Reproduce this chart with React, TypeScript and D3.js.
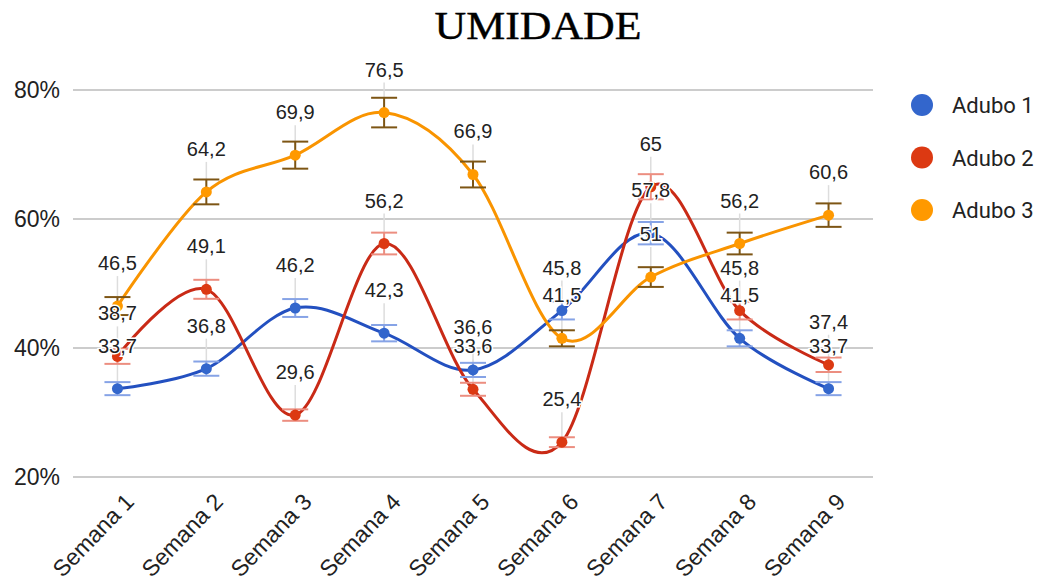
import { useEffect, useRef } from "react";
import * as d3 from "d3";

const categories = [
  "Semana 1",
  "Semana 2",
  "Semana 3",
  "Semana 4",
  "Semana 5",
  "Semana 6",
  "Semana 7",
  "Semana 8",
  "Semana 9",
];

const adubo1 = [33.7, 36.8, 46.2, 42.3, 36.6, 45.8, 57.8, 41.5, 33.7];
const adubo2 = [38.7, 49.1, 29.6, 56.2, 33.6, 25.4, 65, 45.8, 37.4];
const adubo3 = [46.5, 64.2, 69.9, 76.5, 66.9, 41.5, 51, 56.2, 60.6];

const seriesNames = ["Adubo 1", "Adubo 2", "Adubo 3"];
const yTicks = [20, 40, 60, 80];
// error bars are a percentage of each value
const errorPercent = 3;

const colors = ["#3366cc", "#dc3912", "#ff9900"];
const lineColors = ["#2350c0", "#c92a16", "#f99400"];
const barColors = ["#86a3e6", "#ec8e80", "#7d5514"];

const Chart = () => {
  const svgRef = useRef<SVGSVGElement | null>(null);

  const width = 1055;
  const height = 585;

  useEffect(() => {
    if (!svgRef.current) return;
    const svg = d3.select(svgRef.current);
    svg.selectAll("*").remove();

    const left = 73;
    const right = 873;
    const top = 90;
    const bottom = 477;

    const x = d3
      .scalePoint<string>()
      .domain(categories)
      .range([left, right])
      .padding(0.5);
    const y = d3.scaleLinear().domain([20, 80]).range([bottom, top]);

    const allSeries = [adubo1, adubo2, adubo3];

    // title
    svg
      .append("text")
      .attr("x", 538)
      .attr("y", 39)
      .attr("text-anchor", "middle")
      .attr("font-family", "Liberation Serif, serif")
      .attr("font-size", 39)
      .attr("textLength", 207)
      .attr("lengthAdjust", "spacingAndGlyphs")
      .attr("fill", "#000")
      .attr("stroke", "#000")
      .attr("stroke-width", 0.4)
      .text("UMIDADE");

    // grid
    const grid = svg.append("g");
    grid
      .selectAll("line")
      .data(yTicks)
      .join("line")
      .attr("x1", left)
      .attr("x2", right)
      .attr("y1", (d) => y(d))
      .attr("y2", (d) => y(d))
      .attr("stroke", "#cccccc")
      .attr("stroke-width", 2);

    grid
      .selectAll("text")
      .data(yTicks)
      .join("text")
      .attr("x", 60)
      .attr("y", (d) => y(d) + 8)
      .attr("text-anchor", "end")
      .attr("font-family", "Liberation Sans, Arial, sans-serif")
      .attr("font-size", 23)
      .attr("fill", "#222")
      .text((d) => `${d}%`);

    // x labels
    svg
      .append("g")
      .selectAll("text")
      .data(categories)
      .join("text")
      .attr(
        "transform",
        (d) => `translate(${(x(d) ?? 0) + 18},${503}) rotate(-46)`
      )
      .attr("text-anchor", "end")
      .attr("font-family", "Liberation Sans, Arial, sans-serif")
      .attr("font-size", 23)
      .attr("fill", "#222")
      .text((d) => d);

    // annotation stems
    const stems = svg.append("g");
    allSeries.forEach((vals) => {
      stems
        .append("g")
        .selectAll("line")
        .data(vals)
        .join("line")
        .attr("x1", (_, i) => x(categories[i]) ?? 0)
        .attr("x2", (_, i) => x(categories[i]) ?? 0)
        .attr("y1", (d) => y(d) - 30)
        .attr("y2", (d) => y(d))
        .attr("stroke", "#dddddd")
        .attr("stroke-width", 1.5);
    });

    // lines
    const line = d3
      .line<number>()
      .x((_, i) => x(categories[i]) ?? 0)
      .y((d) => y(d))
      .curve(d3.curveCardinal.tension(0));

    const lines = svg.append("g");
    allSeries.forEach((vals, s) => {
      lines
        .append("path")
        .datum(vals)
        .attr("fill", "none")
        .attr("stroke", lineColors[s])
        .attr("stroke-width", 3)
        .attr("d", line);
    });

    // error bars
    const bars = svg.append("g");
    allSeries.forEach((vals, s) => {
      const g = bars.append("g").attr("stroke", barColors[s]).attr("stroke-width", 2);
      vals.forEach((v, i) => {
        const cx = x(categories[i]) ?? 0;
        const e = (v * errorPercent) / 100;
        const y1 = y(v + e);
        const y2 = y(v - e);
        g.append("line").attr("x1", cx).attr("x2", cx).attr("y1", y1).attr("y2", y2);
        g.append("line").attr("x1", cx - 13).attr("x2", cx + 13).attr("y1", y1).attr("y2", y1);
        g.append("line").attr("x1", cx - 13).attr("x2", cx + 13).attr("y1", y2).attr("y2", y2);
      });
    });

    // points
    const points = svg.append("g");
    allSeries.forEach((vals, s) => {
      points
        .append("g")
        .selectAll("circle")
        .data(vals)
        .join("circle")
        .attr("cx", (_, i) => x(categories[i]) ?? 0)
        .attr("cy", (d) => y(d))
        .attr("r", 5.5)
        .attr("fill", colors[s]);
    });

    // data labels
    const labels = svg.append("g");
    allSeries.forEach((vals) => {
      labels
        .append("g")
        .selectAll("text")
        .data(vals)
        .join("text")
        .attr("x", (_, i) => x(categories[i]) ?? 0)
        .attr("y", (d) => y(d) - 36)
        .attr("text-anchor", "middle")
        .attr("font-family", "Liberation Sans, Arial, sans-serif")
        .attr("font-size", 20)
        .attr("fill", "#222")
        .attr("stroke", "#fff")
        .attr("stroke-width", 3)
        .attr("paint-order", "stroke")
        .text((d) => String(d).replace(".", ","));
    });

    // legend
    const legend = svg.append("g");
    seriesNames.forEach((name, s) => {
      const ly = 105 + s * 52.5;
      legend
        .append("circle")
        .attr("cx", 922)
        .attr("cy", ly)
        .attr("r", 11)
        .attr("fill", colors[s]);
      legend
        .append("text")
        .attr("x", 952)
        .attr("y", ly + 8)
        .attr("font-family", "Roboto, sans-serif")
        .attr("font-size", 22)
        .attr("fill", "#222")
        .text(name);
    });
  }, []);

  return (
    <svg
      ref={svgRef}
      width={width}
      height={height}
      style={{ position: "absolute", left: 0, top: 0, background: "#fff" }}
    />
  );
};

export default function App() {
  return <Chart />;
}
